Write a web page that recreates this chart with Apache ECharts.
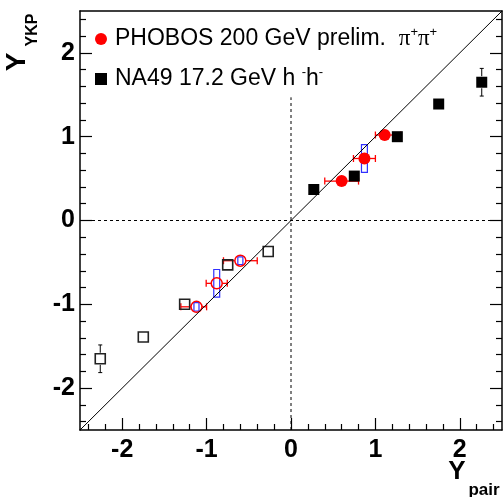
<!DOCTYPE html>
<html>
<head>
<meta charset="utf-8">
<script src="https://cdn.jsdelivr.net/npm/echarts@6/dist/echarts.min.js"></script>
<style>
  html, body { margin: 0; padding: 0; background: #fff; }
  #chart { width: 503px; height: 497px; }
</style>
</head>
<body>
<div id="chart"></div>
<script>
// axis range and tick positions
const axisRange = [-2.5, 2.5];
const majorTicks = [-2, -1, 0, 1, 2];
const minorTicks = [-2.4, -2.2, -1.8, -1.6, -1.4, -1.2, -0.8, -0.6, -0.4, -0.2,
  0.2, 0.4, 0.6, 0.8, 1.2, 1.4, 1.6, 1.8, 2.2, 2.4];
const zeroLineTop = 1.47; // vertical dashed line stops under the legend

// PHOBOS 200 GeV, pi+pi+ (filled = measured, open = reflected)
const phobosX = [0.60, 0.87, 1.11];
const phobosY = [0.47, 0.74, 1.02];
const phobosErrLo = [0.20, 0.13, 0.11];
const phobosErrHi = [0.20, 0.13, 0.19];
const phobosMirX = [-0.60, -0.88, -1.12];
const phobosMirY = [-0.48, -0.75, -1.03];
const phobosMirErrLo = [0.20, 0.125, 0.185];
const phobosMirErrHi = [0.20, 0.125, 0.12];
// systematic boxes (half width / half height)
const sysHalfX = [0.03, 0.035, 0.03];
const sysHalfY = [0.045, 0.165, 0.05];

// NA49 17.2 GeV h-h-
const na49X = [0.27, 0.75, 1.26, 1.75, 2.26];
const na49Y = [0.37, 0.53, 1.00, 1.39, 1.65];
const na49MirX = [-0.27, -0.75, -1.26, -1.75, -2.26];
const na49MirY = [-0.37, -0.53, -1.00, -1.39, -1.65];
const na49YErr = [0, 0, 0, 0, 0.165];

const FONT = "'Liberation Sans', Arial, sans-serif";

const chart = echarts.init(document.getElementById('chart'));

function pairs(xs, ys) {
  return xs.map((x, i) => [x, ys[i]]);
}

// horizontal error bars with end caps, leaving a gap around the marker
function xErrRender(gap) {
  return function (params, api) {
    const x = api.value(0), y = api.value(1);
    const c = api.coord([x, y]);
    const a = api.coord([x - api.value(2), y]);
    const b = api.coord([x + api.value(3), y]);
    const st = { stroke: '#ff0000', lineWidth: 1.3 };
    const kids = [];
    if (c[0] - gap > a[0]) kids.push({ type: 'line', shape: { x1: a[0], y1: c[1], x2: c[0] - gap, y2: c[1] }, style: st });
    if (b[0] > c[0] + gap) kids.push({ type: 'line', shape: { x1: c[0] + gap, y1: c[1], x2: b[0], y2: c[1] }, style: st });
    kids.push({ type: 'line', shape: { x1: a[0], y1: c[1] - 3.5, x2: a[0], y2: c[1] + 3.5 }, style: st });
    kids.push({ type: 'line', shape: { x1: b[0], y1: c[1] - 3.5, x2: b[0], y2: c[1] + 3.5 }, style: st });
    return { type: 'group', children: kids };
  };
}

// vertical error bars (NA49)
function yErrRender(params, api) {
  const x = api.value(0), y = api.value(1), e = api.value(2);
  if (!e) return null;
  const c = api.coord([x, y]);
  const t = api.coord([x, y + e]);
  const b = api.coord([x, y - e]);
  const st = { stroke: '#000', lineWidth: 1 };
  return {
    type: 'group',
    children: [
      { type: 'line', shape: { x1: c[0], y1: t[1], x2: c[0], y2: c[1] - 6 }, style: st },
      { type: 'line', shape: { x1: c[0], y1: c[1] + 6, x2: c[0], y2: b[1] }, style: st },
      { type: 'line', shape: { x1: c[0] - 2, y1: t[1], x2: c[0] + 2, y2: t[1] }, style: st },
      { type: 'line', shape: { x1: c[0] - 2, y1: b[1], x2: c[0] + 2, y2: b[1] }, style: st }
    ]
  };
}

function sysRender(params, api) {
  const x = api.value(0), y = api.value(1), hx = api.value(2), hy = api.value(3);
  const p1 = api.coord([x - hx, y + hy]);
  const p2 = api.coord([x + hx, y - hy]);
  return {
    type: 'rect',
    shape: { x: p1[0], y: p1[1], width: p2[0] - p1[0], height: p2[1] - p1[1] },
    style: { fill: 'none', stroke: '#3030ff', lineWidth: 1.2 }
  };
}

const tickLine = { color: '#000', width: 1.2 };

function mainAxis(pos) {
  return {
    type: 'value', min: axisRange[0], max: axisRange[1], position: pos,
    axisLine: { show: true, onZero: false, lineStyle: { color: '#000', width: 1.5 } },
    axisTick: { show: true, inside: true, length: 12, customValues: majorTicks, lineStyle: tickLine },
    axisLabel: {
      show: true, customValues: majorTicks, color: '#000', fontSize: 25,
      fontWeight: 'bold', fontFamily: FONT, margin: pos === 'left' ? 5 : 8
    },
    splitLine: { show: false }
  };
}
function minorAxis(pos) {
  return {
    type: 'value', min: axisRange[0], max: axisRange[1], position: pos,
    axisLine: { show: false, onZero: false },
    axisTick: { show: true, inside: true, length: 6, customValues: minorTicks, lineStyle: tickLine },
    axisLabel: { show: false },
    splitLine: { show: false }
  };
}
function frameAxis(pos, ticks) {
  return {
    type: 'value', min: axisRange[0], max: axisRange[1], position: pos,
    axisLine: { show: true, onZero: false, lineStyle: { color: '#000', width: 1.5 } },
    axisTick: ticks ? { show: true, inside: true, length: 12, customValues: majorTicks, lineStyle: tickLine } : { show: false },
    axisLabel: { show: false },
    splitLine: { show: false }
  };
}

const option = {
  animation: false,
  backgroundColor: '#fff',
  grid: { left: 80, top: 11, width: 422, height: 419 },
  xAxis: [mainAxis('bottom'), minorAxis('bottom'), frameAxis('top', false)],
  yAxis: [mainAxis('left'), minorAxis('left'), frameAxis('right', true), minorAxis('right')],
  legend: {
    left: 90, top: 21, orient: 'vertical', itemGap: 14,
    itemWidth: 12, itemHeight: 12, selectedMode: false,
    data: [
      { name: 'PHOBOS', icon: 'circle' },
      { name: 'NA49', icon: 'rect' }
    ],
    formatter: function (name) {
      return name === 'PHOBOS'
        ? 'PHOBOS 200 GeV prelim.  {pi|π}{sup|+}{pi|π}{sup|+}'
        : 'NA49 17.2 GeV h {sup|-}h{sup|-}';
    },
    textStyle: {
      fontSize: 23, fontFamily: FONT, color: '#000', lineHeight: 26, padding: [0, 0, 0, 3],
      rich: {
        pi: { fontSize: 23, fontFamily: "'Liberation Serif', serif", color: '#000', lineHeight: 26 },
        sup: { fontSize: 13, fontFamily: FONT, color: '#000', verticalAlign: 'top', lineHeight: 15 }
      }
    }
  },
  graphic: [
    { type: 'text', x: 17, y: 62, rotation: Math.PI / 2,
      style: { text: 'Y', fontSize: 28, fontWeight: 'bold', fontFamily: FONT, fill: '#000', align: 'center', verticalAlign: 'middle' } },
    { type: 'text', x: 33, y: 30, rotation: Math.PI / 2,
      style: { text: 'YKP', fontSize: 16, fontWeight: 'bold', fontFamily: FONT, fill: '#000', align: 'center', verticalAlign: 'middle' } },
    { type: 'text', x: 457, y: 472,
      style: { text: 'Y', fontSize: 26, fontWeight: 'bold', fontFamily: FONT, fill: '#000', align: 'center', verticalAlign: 'middle' } },
    { type: 'text', x: 484, y: 490,
      style: { text: 'pair', fontSize: 17, fontWeight: 'bold', fontFamily: FONT, fill: '#000', align: 'center', verticalAlign: 'middle' } }
  ],
  series: [
    {
      type: 'line', symbol: 'none', silent: true,
      data: [[axisRange[0], axisRange[0]], [axisRange[1], axisRange[1]]],
      lineStyle: { color: '#000', width: 1 }
    },
    {
      type: 'line', symbol: 'none', silent: true,
      data: [[axisRange[0], 0], [axisRange[1], 0]],
      lineStyle: { color: '#000', width: 1, type: [3, 3] }
    },
    {
      type: 'line', symbol: 'none', silent: true,
      data: [[0, axisRange[0]], [0, zeroLineTop]],
      lineStyle: { color: '#000', width: 1, type: [3, 3] }
    },
    {
      type: 'custom', renderItem: yErrRender, silent: true,
      data: na49X.map((x, i) => [x, na49Y[i], na49YErr[i]]).concat(na49MirX.map((x, i) => [x, na49MirY[i], na49YErr[i]]))
    },
    {
      name: 'NA49', type: 'scatter', symbol: 'rect', symbolSize: 11,
      data: pairs(na49X, na49Y),
      itemStyle: { color: '#000', opacity: 1 }
    },
    {
      type: 'scatter', symbol: 'rect', symbolSize: 10,
      data: pairs(na49MirX, na49MirY),
      itemStyle: { color: 'rgba(0,0,0,0)', borderColor: '#222', borderWidth: 1.6, opacity: 1 }
    },
    {
      type: 'custom', renderItem: sysRender, silent: true,
      data: phobosX.map((x, i) => [x, phobosY[i], sysHalfX[i], sysHalfY[i]])
        .concat(phobosMirX.map((x, i) => [x, phobosMirY[i], sysHalfX[i], sysHalfY[i]]))
    },
    {
      type: 'custom', renderItem: xErrRender(5.5), silent: true,
      data: phobosX.map((x, i) => [x, phobosY[i], phobosErrLo[i], phobosErrHi[i]])
        .concat(phobosMirX.map((x, i) => [x, phobosMirY[i], phobosMirErrLo[i], phobosMirErrHi[i]]))
    },
    {
      name: 'PHOBOS', type: 'scatter', symbol: 'circle', symbolSize: 12,
      data: pairs(phobosX, phobosY),
      itemStyle: { color: '#ff0000', opacity: 1 }
    },
    {
      type: 'scatter', symbol: 'circle', symbolSize: 11,
      data: pairs(phobosMirX, phobosMirY),
      itemStyle: { color: 'rgba(0,0,0,0)', borderColor: '#ff0000', borderWidth: 1.5, opacity: 1 }
    }
  ]
};

chart.setOption(option);
</script>
</body>
</html>
